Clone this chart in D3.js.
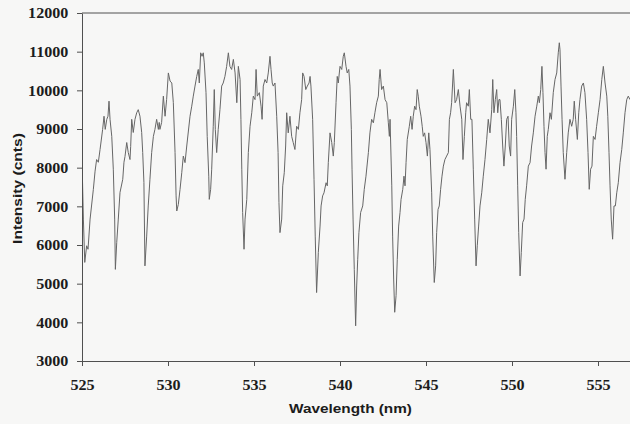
<!DOCTYPE html>
<html>
<head>
<meta charset="utf-8">
<script src="https://cdn.jsdelivr.net/npm/d3@7"></script>
<style>
  html, body { margin: 0; padding: 0; background: #f7f7f6; }
  svg { display: block; }
</style>
</head>
<body>
<svg id="chart" width="630" height="424"></svg>
<script>
// Emission spectrum: wavelength (nm) and detector counts
const wavelength = [
  525.00,525.08,525.16,525.27,525.35,525.47,525.66,525.76,525.85,525.95,526.05,526.20,526.28,526.35,526.44,526.51,526.57,526.63,526.73,526.82,526.90,526.94,527.02,527.11,527.21,527.37,527.44,527.50,527.60,527.69,527.79,527.83,527.89,527.98,528.08,528.18,528.27,528.37,528.47,528.53,528.60,528.66,528.76,528.85,528.95,529.05,529.15,529.24,529.34,529.44,529.49,
  529.53,529.63,529.73,529.83,529.92,530.02,530.12,530.22,530.31,530.41,530.47,530.51,530.60,530.70,530.80,530.89,530.99,531.09,531.28,531.38,531.47,531.57,531.67,531.76,531.82,531.90,531.98,532.05,532.11,532.21,532.28,532.37,532.40,532.48,532.54,532.63,532.69,532.75,532.83,532.92,533.02,533.12,533.21,533.31,533.41,533.51,533.60,533.70,533.80,533.90,534.00,534.09,534.19,
  534.24,534.29,534.34,534.42,534.48,534.58,534.67,534.77,534.87,534.96,535.06,535.12,535.19,535.31,535.41,535.47,535.54,535.64,535.74,535.83,535.93,535.99,536.06,536.12,536.22,536.32,536.40,536.45,536.51,536.61,536.67,536.76,536.84,536.90,536.99,537.09,537.19,537.28,537.38,537.48,537.58,537.67,537.77,537.83,537.91,538.01,538.10,538.20,538.26,538.31,538.41,538.49,538.56,538.64,538.74,538.84,
  538.90,538.99,539.07,539.19,539.26,539.32,539.42,539.52,539.61,539.67,539.77,539.84,539.90,540.00,540.10,540.19,540.25,540.35,540.42,540.51,540.58,540.66,540.70,540.76,540.83,540.91,540.97,541.03,541.10,541.20,541.32,541.41,541.51,541.65,541.74,541.84,541.94,542.03,542.13,542.23,542.28,542.33,542.42,542.52,542.62,542.72,542.81,542.87,542.91,542.95,543.01,543.06,543.12,543.18,543.26,543.33,543.41,543.49,
  543.55,543.65,543.72,543.78,543.84,543.91,544.03,544.11,544.19,544.26,544.34,544.42,544.49,544.55,544.61,544.71,544.78,544.84,544.92,545.00,545.08,545.16,545.23,545.33,545.39,545.48,545.56,545.62,545.70,545.77,545.85,545.93,546.01,546.10,546.20,546.30,546.36,546.43,546.49,546.59,546.69,546.78,546.88,546.98,547.08,547.15,547.23,547.31,547.36,547.46,547.52,547.60,547.67,547.75,547.83,547.91,547.98,548.06,548.14,
  548.24,548.33,548.43,548.53,548.62,548.72,548.82,548.88,548.95,549.03,549.11,549.17,549.24,549.30,549.38,549.46,549.53,549.61,549.69,549.77,549.84,549.92,549.98,550.08,550.16,550.23,550.27,550.33,550.39,550.47,550.54,550.62,550.70,550.77,550.85,550.95,551.05,551.14,551.24,551.34,551.44,551.53,551.59,551.67,551.74,551.80,551.86,551.92,551.98,552.05,552.11,552.21,552.29,552.40,552.50,552.60,552.69,552.75,
  552.79,552.85,552.91,552.98,553.08,553.18,553.27,553.37,553.47,553.56,553.62,553.70,553.80,553.88,553.95,554.05,554.15,554.24,554.34,554.42,554.49,554.57,554.65,554.73,554.83,554.92,555.02,555.12,555.22,555.31,555.41,555.51,555.57,555.64,555.70,555.77,555.85,555.93,556.01,556.09,556.18,556.28,556.38,556.47,556.57,556.67,556.76,556.86
];

const intensity = [
  8210,6670,5550,5980,5890,6670,7440,7910,8210,8140,8470,8990,9330,8990,9250,9330,9720,9250,8810,7960,6670,5370,6070,6670,7360,7700,8140,8290,8650,8390,8210,8550,9250,8910,9250,9420,9500,9330,8910,8390,7620,5460,6230,7010,7700,8390,8810,8990,9250,8990,9170,
  8990,9170,9850,9330,9760,10450,10240,10190,9680,8390,7270,6880,7050,7440,7870,8300,8130,8560,9330,9590,9850,10110,10360,10540,10190,10970,10880,10970,10710,9940,8810,7780,7180,7440,7960,9070,10020,8990,8390,8990,9500,10110,10190,10360,10620,10970,10620,10540,10800,10450,9680,10620,10280,
  9250,7960,6840,5890,6670,7180,8390,9070,9420,9850,9760,10540,9850,9940,9590,9250,10110,10280,10190,10450,10880,10540,10190,10110,10190,9330,8390,7100,6320,6670,7530,7870,8560,9420,8900,9330,8810,8650,8470,9070,8990,9420,9760,10450,10360,10020,10110,10190,10360,10110,9250,7700,6230,4770,5810,6490,
  7010,7270,7350,7610,7530,8130,8900,8650,8300,8650,9680,10360,10190,10620,10540,10880,10970,10620,10450,10540,10110,8990,7960,6670,5370,3910,4940,5630,6320,6840,7010,7440,7780,8390,8900,9250,9160,9420,9680,9850,10280,10540,10020,10110,9760,9680,9160,8810,9250,8560,7530,6230,5120,4260,4690,5630,6490,6840,
  7180,7440,7780,7530,8130,8730,9070,9330,8990,9330,9590,9500,10020,9850,9590,9330,9070,8810,8900,8650,8300,8900,8470,7350,6230,5030,5460,6320,6920,7010,7440,7780,8040,8210,8300,8390,9250,9420,9680,10540,9680,9760,10020,9590,9250,8210,8810,9420,9680,9590,10020,9250,9250,7960,6670,5460,5980,6490,7010,
  7350,7780,8210,8730,9250,8900,9500,10280,9420,9760,10020,9420,9760,9760,9250,8560,8040,8560,9250,9330,8560,8300,9250,9590,10020,9420,8810,7530,6320,5200,5810,6580,6670,7180,7530,8040,8130,8560,8900,9330,9590,9850,9680,10020,10620,9940,9070,8390,7960,8810,8990,9420,9250,9940,10280,10450,10970,11230,
  11050,10110,9250,8390,7700,8390,8900,9250,9070,9250,9720,9250,8730,9420,9760,10110,10190,9940,9250,8390,7440,7960,8040,8810,8730,9070,9420,9760,10280,10620,10190,9850,9330,8390,7530,6670,6150,7010,7010,7350,7610,8130,8470,8900,9420,9760,9850,9760
];

const xTicks = [525, 530, 535, 540, 545, 550, 555];
const yTicks = [3000, 4000, 5000, 6000, 7000, 8000, 9000, 10000, 11000, 12000];
const xTitle = "Wavelength (nm)";
const yTitle = "Intensity (cnts)";

const spectrum = d3.range(Math.min(wavelength.length, intensity.length))
  .map(i => ({ wl: wavelength[i], counts: intensity[i] }));

const svg = d3.select("#chart");
const plotLeft = 82, plotRight = 632.4, plotTop = 13, plotBottom = 361;

const x = d3.scaleLinear().domain([525, 557]).range([plotLeft, plotRight]);
const y = d3.scaleLinear().domain([3000, 12000]).range([plotBottom, plotTop]);

const axisColor = "#505050";
const serifFont = '"Liberation Serif", "Times New Roman", serif';
const sansFont = '"Liberation Sans", Arial, sans-serif';

svg.append("defs").append("clipPath").attr("id", "plotClip")
  .append("rect")
  .attr("x", plotLeft).attr("y", plotTop - 2)
  .attr("width", plotRight - plotLeft).attr("height", plotBottom - plotTop + 2);

// top frame line
svg.append("line")
  .attr("x1", plotLeft).attr("x2", plotRight)
  .attr("y1", plotTop).attr("y2", plotTop)
  .attr("stroke", axisColor).attr("stroke-width", 1);

// spectrum trace
const line = d3.line()
  .x(d => x(d.wl))
  .y(d => y(d.counts));

svg.append("path")
  .datum(spectrum)
  .attr("clip-path", "url(#plotClip)")
  .attr("fill", "none")
  .attr("stroke", "#666")
  .attr("stroke-width", 1)
  .attr("stroke-linejoin", "round")
  .attr("d", line);

function styleTickText(sel) {
  sel.attr("fill", null)
    .style("font-family", serifFont)
    .style("font-weight", "bold")
    .style("font-size", "14px")
    .style("fill", "#1c1c1c");
}

// x axis
const gx = svg.append("g")
  .attr("transform", `translate(0,${plotBottom})`)
  .call(d3.axisBottom(x).tickValues(xTicks).tickSize(5).tickSizeOuter(0).tickFormat(d3.format("d")));
gx.select(".domain").attr("stroke", axisColor);
gx.selectAll(".tick line").attr("stroke", axisColor);
gx.selectAll(".tick text")
  .attr("y", 29.5).attr("dy", 0)
  .attr("transform", "scale(1.15,1)")
  .call(styleTickText);

// y axis
const gy = svg.append("g")
  .attr("transform", `translate(${plotLeft},0)`)
  .call(d3.axisLeft(y).tickValues(yTicks).tickSize(5).tickSizeOuter(0).tickFormat(d3.format("d")));
gy.select(".domain").attr("stroke", axisColor);
gy.selectAll(".tick line").attr("stroke", axisColor);
gy.selectAll(".tick text")
  .attr("x", -11.9).attr("dy", "0.34em")
  .attr("transform", "scale(1.15,1)")
  .call(styleTickText);

// axis titles
svg.append("text")
  .attr("transform", "translate(350.5,413) scale(1.18,1)")
  .attr("text-anchor", "middle")
  .style("font-family", sansFont).style("font-weight", "bold")
  .style("font-size", "13px").style("fill", "#1c1c1c")
  .text(xTitle);

svg.append("text")
  .attr("transform", "translate(22,188.5) rotate(-90) scale(1.2,1)")
  .attr("text-anchor", "middle")
  .style("font-family", sansFont).style("font-weight", "bold")
  .style("font-size", "13px").style("fill", "#1c1c1c")
  .text(yTitle);
</script>
</body>
</html>
